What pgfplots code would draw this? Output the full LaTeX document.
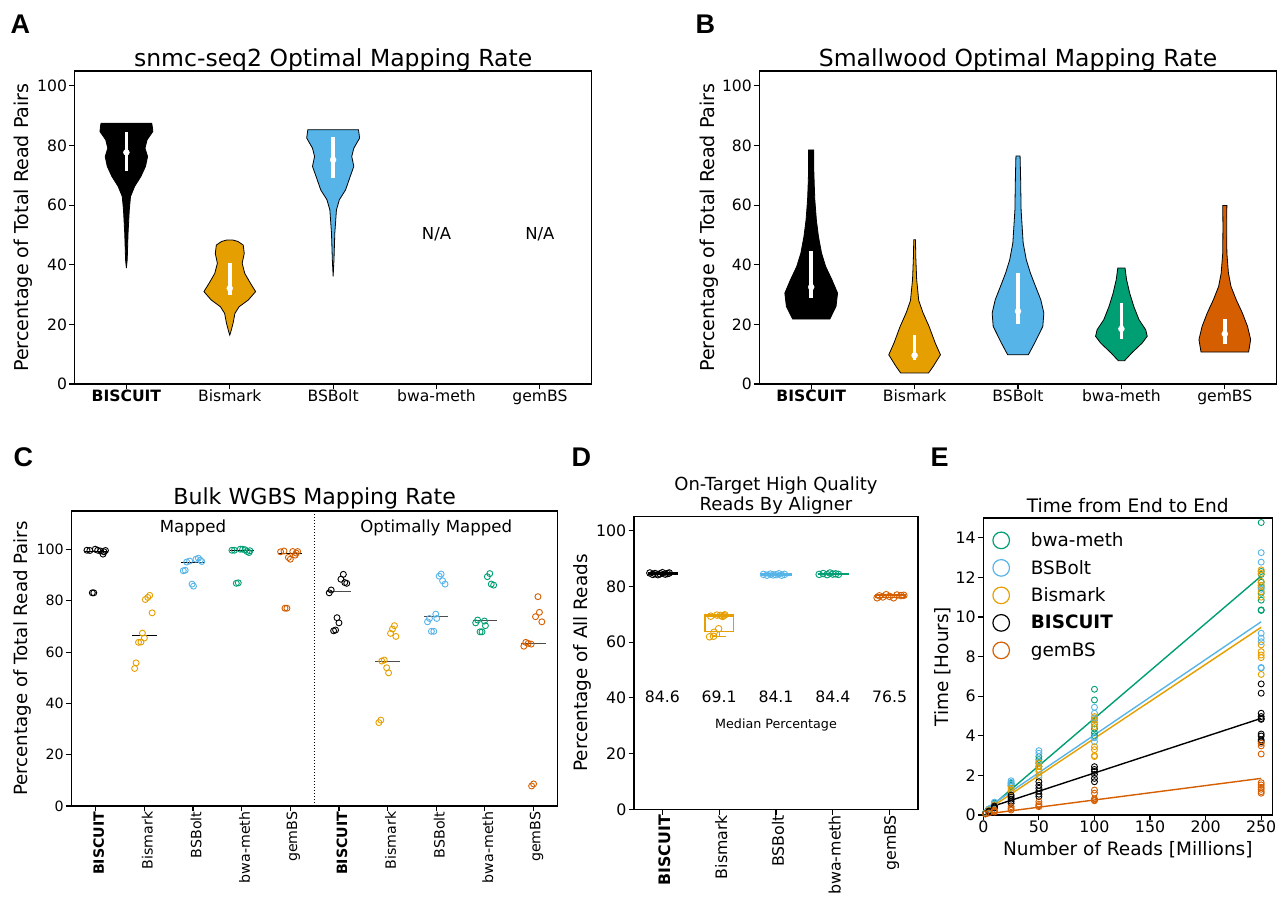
\documentclass[border=0pt]{standalone}
\usepackage{fontspec}
\setmainfont{DejaVu Sans}
\newfontfamily\letterfont{Liberation Sans}
\usepackage{pgfplots}
\pgfplotsset{compat=1.18}

\definecolor{cBis}{HTML}{E69F00}
\definecolor{cBSB}{HTML}{56B4E9}
\definecolor{cBwa}{HTML}{009E73}
\definecolor{cGem}{HTML}{D55E00}

\newcommand{\fs}[1]{\fontsize{#1}{#1}\selectfont}

\pgfplotsset{
  mpl/.style={
    scale only axis,
    tick align=outside, tick pos=left,
    major tick length=5.5pt,
    axis line style={line width=1.1pt},
    every tick/.append style={line width=1.1pt, black},
    /pgf/number format/assume math mode=true,
    yticklabel style={anchor=east, inner sep=0pt, xshift=-2pt},
    every axis title shift=0pt,
  },
  violin/.style={draw=black, line width=0.8pt},
  whisk/.style={white, line width=3.6pt},
  meddot/.style={only marks, mark=*, mark size=3pt, white},
  strip/.style={only marks, mark=o, mark size=3pt, line width=0.9pt},
}

\begin{document}
\begin{tikzpicture}
\useasboundingbox (0pt,0pt) rectangle (1283pt,899pt);

% ---------------- A ----------------
\begin{axis}[mpl, at={(74.7pt,515pt)}, anchor=south west, width=516.9pt, height=313pt,
  xmin=-0.5, xmax=4.5, ymin=0, ymax=105,
  xtick={0,1,2,3,4}, xticklabels={\textbf{BISCUIT},Bismark,BSBolt,bwa-meth,gemBS},
  ytick={0,20,40,60,80,100},
  ticklabel style={font=\fs{15.6}},
  xticklabel style={anchor=base, inner sep=0pt, yshift=-12pt},
  title={snmc-seq2 Optimal Mapping Rate},
  title style={font=\fs{23.5}, at={(axis description cs:0.5,1.0128)}, anchor=base, inner sep=0pt, yshift=0pt},
  ylabel={Percentage of Total Read Pairs},
  ylabel style={font=\fs{19.1}, at={(axis description cs:-0.099,0.5)}, anchor=center, inner sep=0pt},
]
\addplot[violin, fill=black] coordinates {
 (0,38.9)(0.008,41.7)(0.016,50.6)(0.028,58.4)(0.04,62.9)(0.08,66.3)(0.14,69.6)(0.185,73)(0.205,76.3)(0.18,79.1)(0.2,81.9)(0.256,84.7)(0.25,86.5)(0.245,87.5)
 (-0.245,87.5)(-0.25,86.5)(-0.256,84.7)(-0.2,81.9)(-0.18,79.1)(-0.205,76.3)(-0.185,73)(-0.14,69.6)(-0.08,66.3)(-0.04,62.9)(-0.028,58.4)(-0.016,50.6)(-0.008,41.7)} -- cycle;
\addplot[violin, fill=cBis] coordinates {
 (1,16.4)(1.01,17.5)(1.032,20.4)(1.05,23.7)(1.09,25.9)(1.18,28.2)(1.25,31.0)(1.2,33.8)(1.145,37.1)(1.12,40.5)(1.14,43.8)(1.13,46.6)(1.08,47.8)(1.03,48.3)
 (0.97,48.3)(0.92,47.8)(0.87,46.6)(0.86,43.8)(0.88,40.5)(0.855,37.1)(0.8,33.8)(0.75,31.0)(0.82,28.2)(0.91,25.9)(0.95,23.7)(0.968,20.4)(0.99,17.5)} -- cycle;
\addplot[violin, fill=cBSB] coordinates {
 (2,36.1)(2.008,41.7)(2.016,50.6)(2.032,58.4)(2.06,61.8)(2.12,65.1)(2.165,69.6)(2.2,73)(2.18,76.3)(2.2,79.1)(2.256,82.5)(2.245,85.3)
 (1.755,85.3)(1.744,82.5)(1.8,79.1)(1.82,76.3)(1.8,73)(1.835,69.6)(1.88,65.1)(1.94,61.8)(1.968,58.4)(1.984,50.6)(1.992,41.7)} -- cycle;
\addplot[whisk] coordinates {(0,71.6)(0,84.7)};
\addplot[whisk] coordinates {(1,29.9)(1,40.7)};
\addplot[whisk] coordinates {(2,69.05)(2,82.7)};
\addplot[meddot] coordinates {(0,77.7)(1,32.1)(2,75.2)};
\node[font=\fs{16.5}] at (axis cs:3,50.3) {N/A};
\node[font=\fs{16.5}] at (axis cs:4,50.3) {N/A};
\end{axis}

% ---------------- B ----------------
\begin{axis}[mpl, at={(759.5pt,515pt)}, anchor=south west, width=517pt, height=313pt,
  xmin=-0.5, xmax=4.5, ymin=0, ymax=105,
  xtick={0,1,2,3,4}, xticklabels={\textbf{BISCUIT},Bismark,BSBolt,bwa-meth,gemBS},
  ytick={0,20,40,60,80,100},
  ticklabel style={font=\fs{15.6}},
  xticklabel style={anchor=base, inner sep=0pt, yshift=-12pt},
  title={Smallwood Optimal Mapping Rate},
  title style={font=\fs{23.5}, at={(axis description cs:0.5,1.0128)}, anchor=base, inner sep=0pt, yshift=0pt},
  ylabel={Percentage of Total Read Pairs},
  ylabel style={font=\fs{19.1}, at={(axis description cs:-0.098,0.5)}, anchor=center, inner sep=0pt},
]
\addplot[violin, fill=black] coordinates {
 (0.18,21.8)(0.24,26)(0.255,30.5)(0.2,35)(0.14,39.4)(0.1,43.9)(0.07,49.5)(0.05,55)(0.035,61.8)(0.03,66.3)(0.025,71.8)(0.025,78.5)
 (-0.025,78.5)(-0.025,71.8)(-0.03,66.3)(-0.035,61.8)(-0.05,55)(-0.07,49.5)(-0.1,43.9)(-0.14,39.4)(-0.2,35)(-0.255,30.5)(-0.24,26)(-0.18,21.8)} -- cycle;
\addplot[violin, fill=cBis] coordinates {
 (1.135,3.7)(1.18,5.9)(1.25,9.8)(1.2,13.7)(1.14,19.3)(1.08,24)(1.04,28)(1.02,35)(1.012,42)(1.008,48.4)
 (0.992,48.4)(0.988,42)(0.98,35)(0.96,28)(0.92,24)(0.86,19.3)(0.8,13.7)(0.75,9.8)(0.82,5.9)(0.865,3.7)} -- cycle;
\addplot[violin, fill=cBSB] coordinates {
 (2.1,9.8)(2.16,13.7)(2.24,19.3)(2.25,23.8)(2.22,28.3)(2.17,32.7)(2.12,37.2)(2.08,41.7)(2.05,47.3)(2.03,58.4)(2.025,69.6)(2.02,76.5)
 (1.98,76.5)(1.975,69.6)(1.97,58.4)(1.95,47.3)(1.92,41.7)(1.88,37.2)(1.83,32.7)(1.78,28.3)(1.75,23.8)(1.76,19.3)(1.84,13.7)(1.9,9.8)} -- cycle;
\addplot[violin, fill=cBwa] coordinates {
 (3.03,7.8)(3.1,10.4)(3.2,13.7)(3.25,16)(3.235,18.2)(3.17,21.6)(3.12,26)(3.08,30.5)(3.05,35)(3.035,38.9)
 (2.965,38.9)(2.95,35)(2.92,30.5)(2.88,26)(2.83,21.6)(2.765,18.2)(2.75,16)(2.8,13.7)(2.9,10.4)(2.97,7.8)} -- cycle;
\addplot[violin, fill=cGem] coordinates {
 (4.23,10.7)(4.25,14.9)(4.22,19.3)(4.17,23.8)(4.11,28.3)(4.06,32.7)(4.035,37.2)(4.02,43.9)(4.018,52.8)(4.02,59.9)
 (3.98,59.9)(3.982,52.8)(3.98,43.9)(3.965,37.2)(3.94,32.7)(3.89,28.3)(3.83,23.8)(3.78,19.3)(3.75,14.9)(3.77,10.7)} -- cycle;
\addplot[whisk] coordinates {(0,28.8)(0,44.5)};
\addplot[whisk] coordinates {(1,8.2)(1,16.5)};
\addplot[whisk] coordinates {(2,20.2)(2,37.4)};
\addplot[whisk] coordinates {(3,15.1)(3,27.2)};
\addplot[whisk] coordinates {(4,13.4)(4,21.8)};
\addplot[meddot] coordinates {(0,32.5)(1,9.6)(2,24.4)(3,18.5)(4,16.8)};
\end{axis}

% ---------------- C ----------------
\begin{axis}[mpl, at={(71.4pt,93pt)}, anchor=south west, width=486.5pt, height=295pt,
  xmin=-0.5, xmax=9.5, ymin=0, ymax=115,
  xtick={0,...,9},
  xticklabels={\textbf{BISCUIT},Bismark,BSBolt,bwa-meth,gemBS,\textbf{BISCUIT},Bismark,BSBolt,bwa-meth,gemBS},
  ytick={0,20,40,60,80,100},
  ticklabel style={font=\fs{14.2}},
  xticklabel style={rotate=90, anchor=east, inner sep=0pt, yshift=-3pt},
  title={Bulk WGBS Mapping Rate},
  title style={font=\fs{22.1}, at={(axis description cs:0.5,1.0224)}, anchor=base, inner sep=0pt, yshift=0pt},
  ylabel={Percentage of Total Read Pairs},
  ylabel style={font=\fs{18.2}, at={(axis description cs:-0.1,0.5)}, anchor=center, inner sep=0pt},
]
\addplot[black, dotted, line width=1pt] coordinates {(4.5,0)(4.5,115)};
\addplot[strip, black] coordinates {(-0.18,99.7)(-0.12,99.6)(-0.01,100.1)(0.04,99.7)(0.1,99.4)(0.15,98.2)(0.17,99.1)(0.2,99.6)(-0.07,83.1)(-0.04,83.1)};
\addplot[strip, cBis] coordinates {(0.8,53.6)(0.83,55.8)(0.88,63.8)(0.93,63.9)(0.96,67.4)(1.0,65.5)(1.02,80.5)(1.07,81.3)(1.11,82.1)(1.16,75.3)};
\addplot[strip, cBSB] coordinates {(1.8,91.7)(1.84,91.9)(1.87,95.1)(1.93,95.5)(1.98,86.5)(2.01,85.7)(2.06,96.2)(2.11,96.6)(2.15,95.8)(2.18,95.3)};
\addplot[strip, cBwa] coordinates {(2.8,99.7)(2.85,99.7)(2.89,86.8)(2.93,87.0)(2.97,100.1)(3.02,100.1)(3.07,99.9)(3.11,99.2)(3.15,98.8)(3.17,99.5)};
\addplot[strip, cGem] coordinates {(3.8,99.1)(3.87,99.4)(3.89,77.1)(3.93,77.1)(3.96,96.9)(4.0,96.2)(4.05,99.2)(4.1,97.8)(4.12,98.6)(4.15,99.2)};
\addplot[strip, black] coordinates {(4.8,83.1)(4.84,84.2)(4.89,68.3)(4.93,68.6)(4.96,73.4)(5.0,71.4)(5.04,88.4)(5.09,90.3)(5.12,87.1)(5.16,86.8)};
\addplot[strip, cBis] coordinates {(5.82,32.5)(5.86,33.5)(5.88,56.5)(5.93,56.9)(5.98,53.9)(6.02,51.9)(6.06,67.3)(6.1,69.0)(6.14,70.3)(6.17,66.1)};
\addplot[strip, cBSB] coordinates {(6.82,71.8)(6.86,73.1)(6.9,68.1)(6.95,68.1)(6.99,74.8)(7.01,73.1)(7.06,89.6)(7.1,90.4)(7.13,87.8)(7.18,86.5)};
\addplot[strip, cBwa] coordinates {(7.81,71.4)(7.85,72.5)(7.9,67.9)(7.94,67.9)(7.99,72.1)(8.01,70.3)(8.05,89.4)(8.1,90.6)(8.13,86.5)(8.18,86.1)};
\addplot[strip, cGem] coordinates {(8.8,62.3)(8.84,63.8)(8.89,63.4)(8.95,63.1)(8.96,7.8)(9.0,8.6)(9.04,73.8)(9.09,81.6)(9.12,75.5)(9.17,71.8)};
% medians
\addplot[black, line width=1pt] coordinates {(-0.25,99.4)(0.25,99.4)};
\addplot[black, line width=1pt] coordinates {(0.75,66.5)(1.25,66.5)};
\addplot[black, line width=1pt] coordinates {(1.75,94.9)(2.25,94.9)};
\addplot[black, line width=1pt] coordinates {(2.75,99.5)(3.25,99.5)};
\addplot[black, line width=1pt] coordinates {(3.75,98.4)(4.25,98.4)};
\addplot[black!70, line width=1pt] coordinates {(4.75,83.5)(5.25,83.5)};
\addplot[black!70, line width=1pt] coordinates {(5.75,56.5)(6.25,56.5)};
\addplot[black!70, line width=1pt] coordinates {(6.75,74)(7.25,74)};
\addplot[black!70, line width=1pt] coordinates {(7.75,72.2)(8.25,72.2)};
\addplot[black!70, line width=1pt] coordinates {(8.75,63.4)(9.25,63.4)};
\node[font=\fs{16.6}] at (axis cs:2,108.3) {Mapped};
\node[font=\fs{16.6}] at (axis cs:7,108.3) {Optimally Mapped};
\end{axis}

% ---------------- D ----------------
\begin{axis}[mpl, at={(634pt,89.7pt)}, anchor=south west, width=284pt, height=292.6pt,
  xmin=-0.5, xmax=4.5, ymin=0, ymax=105,
  xtick={0,1,2,3,4}, xticklabels={\textbf{BISCUIT},Bismark,BSBolt,bwa-meth,gemBS},
  ytick={0,20,40,60,80,100},
  ticklabel style={font=\fs{15.8}},
  xticklabel style={rotate=90, anchor=east, inner sep=0pt, yshift=-2pt},
  title={On-Target High Quality\\Reads By Aligner},
  title style={font=\fontsize{18}{20}\selectfont, align=center, at={(axis description cs:0.5,1.009)}, anchor=south, inner sep=0pt, yshift=0pt},
  ylabel={Percentage of All Reads},
  ylabel style={font=\fs{18.4}, at={(axis description cs:-0.18,0.5)}, anchor=center, inner sep=0pt},
]
\addplot[black, line width=1.4pt] coordinates {(-0.25,84.4)(0.27,84.4)(0.27,84.8)(-0.25,84.8)} -- cycle;
\addplot[cBis, line width=1.4pt] coordinates {(0.75,63.8)(1.25,63.8)(1.25,69.7)(0.75,69.7)} -- cycle;
\addplot[cBis, line width=1.4pt] coordinates {(0.75,69.1)(1.25,69.1)};
\addplot[cBis, line width=1.4pt] coordinates {(1,63.8)(1,62.0)};
\addplot[cBis, line width=1.4pt] coordinates {(0.875,62.0)(1.125,62.0)};
\addplot[cBSB, line width=1.4pt] coordinates {(1.75,83.9)(2.27,83.9)(2.27,84.4)(1.75,84.4)} -- cycle;
\addplot[cBwa, line width=1.4pt] coordinates {(2.75,84.2)(3.27,84.2)(3.27,84.6)(2.75,84.6)} -- cycle;
\addplot[cGem, line width=1.4pt] coordinates {(3.75,76.0)(4.27,76.0)(4.27,76.9)(3.75,76.9)} -- cycle;
\addplot[strip, mark size=3.3pt, black] coordinates {(-0.22,84.8)(-0.17,84.3)(-0.13,84.6)(-0.08,84.2)(-0.04,84.5)(0,84.9)(0.05,84.4)(0.09,84.6)(0.12,84.8)};
\addplot[strip, mark size=3.3pt, cBis] coordinates {(0.83,61.9)(0.9,62.1)(0.91,63.5)(0.99,64.8)(0.85,69.3)(0.96,69.7)(1.02,69.6)(1.06,69.2)(1.1,69.8)(1.08,69.5)};
\addplot[strip, mark size=3.3pt, cBSB] coordinates {(1.78,84.3)(1.84,84.0)(1.9,84.4)(1.95,84.1)(2.0,84.2)(2.05,84.5)(2.1,84.0)(2.15,84.3)};
\addplot[strip, mark size=3.3pt, cBwa] coordinates {(2.76,84.3)(2.83,84.6)(2.9,84.2)(2.95,84.8)(3.0,84.4)(3.05,84.5)(3.1,84.3)};
\addplot[strip, mark size=3.3pt, cGem] coordinates {(3.78,75.9)(3.82,76.6)(3.88,76.2)(3.94,77.0)(4.0,76.4)(4.07,75.9)(4.13,76.9)(4.2,76.7)(4.25,76.8)};
\node[font=\fs{15.7}] at (axis cs:0,40.4) {84.6};
\node[font=\fs{15.7}] at (axis cs:1,40.4) {69.1};
\node[font=\fs{15.7}] at (axis cs:2,40.4) {84.1};
\node[font=\fs{15.7}] at (axis cs:3,40.4) {84.4};
\node[font=\fs{15.7}] at (axis cs:4,40.4) {76.5};
\node[font=\fs{12.7}] at (axis cs:2,30.3) {Median Percentage};
\end{axis}

% ---------------- E ----------------
\begin{axis}[mpl, at={(983.3pt,84pt)}, anchor=south west, width=289pt, height=297pt,
  xmin=0, xmax=260, ymin=0, ymax=15,
  xtick={0,50,100,150,200,250}, ytick={0,2,4,6,8,10,12,14},
  ticklabel style={font=\fs{15.8}},
  xticklabel style={anchor=base, inner sep=0pt, yshift=-12pt},
  title={Time from End to End},
  title style={font=\fs{18.6}, at={(axis description cs:0.5,1.0195)}, anchor=base, inner sep=0pt, yshift=0pt},
  ylabel={Time [Hours]},
  ylabel style={font=\fs{18.4}, at={(axis description cs:-0.139,0.5)}, anchor=center, inner sep=0pt},
  xlabel={Number of Reads [Millions]},
  xlabel style={font=\fs{18.5}, at={(axis description cs:0.5,-0.118)}, anchor=center, inner sep=0pt},
  legend style={at={(axis description cs:0.02,0.962)}, anchor=north west, draw=none, fill=none,
    font=\fs{18.4}, row sep=9.7pt, column sep=0pt, nodes={inner sep=1pt}},
  legend cell align=left,
  legend image code/.code={\draw[line width=1.2pt] (8.3pt,0pt) circle (8.3pt); \path[draw=none] (0pt,0pt) -- (37pt,0pt);},
]
\addplot[strip, cBwa] coordinates {(2,0.12)(2,0.1)(5,0.3)(5,0.25)(10,0.6)(10,0.55)(25,1.6)(25,1.5)(25,1.45)(50,2.95)(50,2.8)(50,2.6)(50,2.45)(100,6.35)(100,5.81)(100,4.8)(100,4.6)(100,4.35)(100,4.15)(100,4.0)(250,14.77)(250,12.3)(250,12.15)(250,11.75)(250,11.5)(250,11.2)(250,10.85)(250,10.36)(250,10.33)};
\addlegendentry{bwa-meth}
\addplot[strip, cBSB] coordinates {(2,0.1)(5,0.3)(10,0.65)(10,0.55)(25,1.73)(25,1.65)(25,1.55)(50,3.25)(50,3.12)(50,2.7)(50,2.0)(100,5.44)(100,5.14)(100,4.9)(100,3.9)(100,3.7)(250,13.25)(250,12.77)(250,11.6)(250,11.4)(250,9.18)(250,8.93)(250,8.75)(250,7.45)(250,7.42)};
\addlegendentry{BSBolt}
\addplot[strip, cBis] coordinates {(2,0.08)(5,0.25)(10,0.5)(10,0.45)(25,1.35)(25,1.25)(25,1.18)(50,2.63)(50,2.45)(50,2.3)(50,2.19)(50,1.9)(100,4.97)(100,4.8)(100,4.6)(100,4.46)(100,3.45)(100,3.3)(100,3.0)(100,2.95)(250,12.38)(250,12.2)(250,11.8)(250,11.6)(250,11.28)(250,11.0)(250,8.59)(250,8.25)(250,8.08)(250,7.95)(250,7.1)};
\addlegendentry{Bismark}
\addplot[strip, black] coordinates {(2,0.06)(5,0.2)(5,0.15)(10,0.45)(10,0.4)(10,0.35)(25,1.0)(25,0.9)(25,0.8)(25,0.7)(25,0.59)(50,1.68)(50,1.5)(50,1.35)(50,1.2)(50,1.05)(50,0.93)(100,2.44)(100,2.3)(100,2.2)(100,2.05)(100,1.85)(100,1.68)(250,6.62)(250,6.15)(250,5.14)(250,4.97)(250,4.87)(250,4.83)(250,4.09)(250,3.99)(250,3.79)(250,3.7)};
\addlegendentry{\textbf{BISCUIT}}
\addplot[strip, cGem] coordinates {(2,0.05)(5,0.1)(10,0.25)(10,0.2)(10,0.15)(25,0.42)(25,0.33)(25,0.25)(50,0.67)(50,0.55)(50,0.47)(50,0.42)(100,1.26)(100,1.1)(100,0.82)(100,0.76)(100,0.72)(250,3.62)(250,3.49)(250,3.08)(250,1.63)(250,1.52)(250,1.4)(250,1.3)(250,1.18)(250,1.1)};
\addlegendentry{gemBS}
\addplot[cBwa, line width=1.4pt, forget plot] coordinates {(2,0.19)(250,12.07)};
\addplot[cBSB, line width=1.4pt, forget plot] coordinates {(2,0.31)(250,9.76)};
\addplot[cBis, line width=1.4pt, forget plot] coordinates {(2,0.2)(250,9.48)};
\addplot[black, line width=1.4pt, forget plot] coordinates {(2,0.32)(250,4.88)};
\addplot[cGem, line width=1.4pt, forget plot] coordinates {(2,0.045)(250,1.85)};
\end{axis}

% panel letters
\node[anchor=base west, font=\letterfont\bfseries\fs{27}] at (7pt,865pt) {A};
\node[anchor=base west, font=\letterfont\bfseries\fs{27}] at (692pt,865pt) {B};
\node[anchor=base west, font=\letterfont\bfseries\fs{27}] at (10pt,432.3pt) {C};
\node[anchor=base west, font=\letterfont\bfseries\fs{27}] at (568pt,432.3pt) {D};
\node[anchor=base west, font=\letterfont\bfseries\fs{27}] at (927pt,432.3pt) {E};
\end{tikzpicture}
\end{document}
